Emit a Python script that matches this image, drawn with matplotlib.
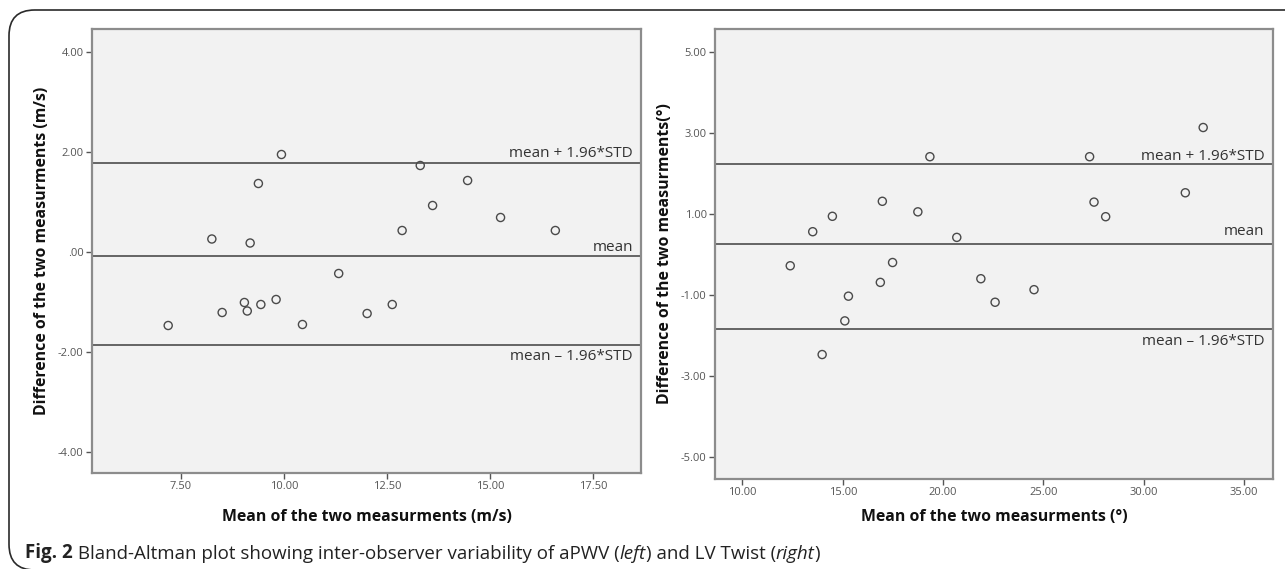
import matplotlib
matplotlib.use("Agg")
import matplotlib.pyplot as plt
from matplotlib.patches import FancyBboxPatch
from matplotlib.ticker import FuncFormatter, FixedLocator
import matplotlib.transforms as mtransforms

plt.rcParams['font.family'] = ['Open Sans', 'DejaVu Sans']

# left panel: aPWV (m/s)
pwv_mean = [9.94, 9.38, 13.31, 14.46, 13.61, 15.26, 12.87, 16.59, 8.25, 9.18,
            11.33, 7.19, 8.50, 9.04, 9.11, 9.44, 9.81, 10.45, 12.02, 12.63]
pwv_diff = [1.95, 1.37, 1.73, 1.43, 0.93, 0.69, 0.43, 0.43, 0.26, 0.18,
            -0.43, -1.47, -1.21, -1.01, -1.18, -1.05, -0.95, -1.45, -1.23, -1.05]
pwv_lines = [1.78, -0.07, -1.86]   # upper limit, mean, lower limit
pwv_xticks = [7.5, 10.0, 12.5, 15.0, 17.5]
pwv_yticks = [4, 2, 0, -2, -4]

# right panel: LV twist (deg)
twist_mean = [32.96, 19.34, 27.30, 32.07, 16.97, 27.52, 18.74, 14.48, 28.10, 13.50,
              20.68, 12.38, 17.48, 21.88, 16.87, 24.53, 15.28, 22.59, 15.10, 13.97]
twist_diff = [3.13, 2.41, 2.41, 1.52, 1.31, 1.29, 1.05, 0.94, 0.93, 0.56,
              0.42, -0.28, -0.20, -0.60, -0.69, -0.87, -1.03, -1.18, -1.64, -2.47]
twist_lines = [2.23, 0.25, -1.85]
twist_xticks = [10, 15, 20, 25, 30, 35]
twist_yticks = [5, 3, 1, -1, -3, -5]

line_labels = ['mean + 1.96*STD', 'mean', 'mean \u2013 1.96*STD']

W, H = 1285, 569
fig = plt.figure(figsize=(W / 100, H / 100), dpi=100)


def px_axes(x0, y0, x1, y1):
    return fig.add_axes([x0 / W, 1 - y1 / H, (x1 - x0) / W, (y1 - y0) / H])


def fmt(v, pos):
    s = f"{v:.2f}"
    if s == "0.00":
        return ".00"
    return s


def panel(ax, xs, ys, lines, xticks, yticks, xlim, ylim, xlabel, ylabel, offs, xpad, ypad):
    ax.set_facecolor('#f2f2f2')
    ax.scatter(xs, ys, s=34, facecolors='none', edgecolors='#4a4a4a', linewidths=1.0, zorder=3)
    trans = mtransforms.blended_transform_factory(ax.transAxes, ax.transData)
    for val, lab, off in zip(lines, line_labels, offs):
        ax.axhline(val, color='#5a5a5a', lw=1.3, zorder=2)
        ax.annotate(lab, xy=(0.985, val), xycoords=trans, xytext=(0, off),
                    textcoords='offset points', ha='right', va='center',
                    fontsize=11, color='#333333')
    ax.set_xlim(*xlim)
    ax.set_ylim(*ylim)
    ax.xaxis.set_major_locator(FixedLocator(xticks))
    ax.yaxis.set_major_locator(FixedLocator(yticks))
    ax.xaxis.set_major_formatter(FuncFormatter(fmt))
    ax.yaxis.set_major_formatter(FuncFormatter(fmt))
    ax.tick_params(direction='out', length=4, width=1, colors='#555555',
                   labelsize=8, labelcolor='#555555', pad=2)
    for sp in ax.spines.values():
        sp.set_color('#8c8c8c')
        sp.set_linewidth(1.6)
    ax.set_xlabel(xlabel, fontsize=11.4, fontweight='bold', color='#111111', labelpad=xpad)
    ax.set_ylabel(ylabel, fontsize=11.4, fontweight='bold', color='#111111', labelpad=ypad)


ax1 = px_axes(92, 29, 641, 473)
panel(ax1, pwv_mean, pwv_diff, pwv_lines, pwv_xticks, pwv_yticks,
      (5.34, 18.67), (-4.42, 4.46),
      'Mean of the two measurments (m/s)',
      'Difference of the two measurments (m/s)', [7, 6, -8.5], 12, 6)

ax2 = px_axes(715, 29, 1273, 479)
panel(ax2, twist_mean, twist_diff, twist_lines, twist_xticks, twist_yticks,
      (8.63, 36.44), (-5.54, 5.56),
      'Mean of the two measurments (\u00b0)',
      'Difference of the two measurments(\u00b0)', [5.5, 9.5, -8.5], 8, 6)

# outer rounded frame, right and bottom sides run off the picture
frame = FancyBboxPatch((9 / W, 1 - 570 / H), 1.2, (570 - 10) / H,
                       boxstyle='round,pad=0,rounding_size=0.02',
                       transform=fig.transFigure, fill=False,
                       edgecolor='#2a2a2a', lw=1.2, mutation_aspect=W / H)
fig.patches.append(frame)

# caption with mixed styles
cap = dict(fontsize=13.5, color='#222222')
prev = fig.text(25 / W, 1 - 553 / H, 'Fig. 2', fontweight='bold', va='center', **cap)
parts = [(' Bland-Altman plot showing inter-observer variability of aPWV (', 'normal'),
         ('left', 'italic'), (') and LV Twist (', 'normal'), ('right', 'italic'), (')', 'normal')]
for txt, style in parts:
    prev = plt.annotate(txt, xy=(1, 0), xycoords=prev, va='bottom', ha='left',
                        fontstyle=style, annotation_clip=False, **cap)

fig.savefig('out.png', dpi=100)
